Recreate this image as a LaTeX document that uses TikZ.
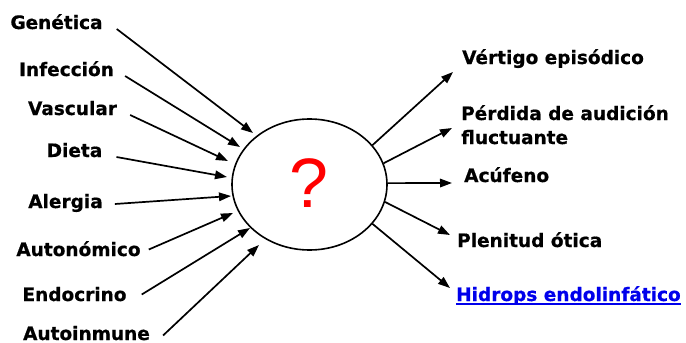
\documentclass[tikz,border=0pt]{standalone}
\usepackage{fontspec}
\setmainfont{DejaVu Sans}[BoldFeatures={FakeBold=0.6}]
\newfontfamily\qfont{Liberation Sans}
\usetikzlibrary{arrows.meta,shapes.geometric}
\definecolor{linkblue}{RGB}{0,0,235}
\definecolor{qred}{RGB}{255,0,0}
\begin{document}
\begin{tikzpicture}[x=1pt,y=-1pt,
  lbl/.style={font=\fontsize{18.5}{24}\selectfont\bfseries, inner ysep=0pt, inner xsep=0pt,
     text height=13pt, text depth=0pt, anchor=base},
  rlbl/.style={font=\fontsize{18.5}{24}\selectfont\bfseries, inner sep=0pt, anchor=base west, align=left},
  arr/.style={line width=1.7pt, -{Triangle[length=12pt,width=8.5pt]}},
  gap/.style={inner xsep=#1}]
\useasboundingbox (0,0) rectangle (686,343);
% central ellipse
\node[ellipse, draw, line width=1.6pt, minimum width=155pt, minimum height=131pt, inner sep=0pt] (q) at (309.5,184.5) {};
\node[font=\qfont\fontsize{70}{70}\selectfont, text=qred, inner sep=0pt] (qm) at (309,183) {?};
% left labels
\node[lbl, gap=14pt] (gen) at (56.5,29) {Genética};
\node[lbl, gap=11pt] (inf) at (66.5,76) {Infección};
\node[lbl, gap=13pt] (vas) at (72.5,115) {Vascular};
\node[lbl, gap=14pt] (die) at (74.5,157) {Dieta};
\node[lbl, gap=12pt] (ale) at (65.5,208) {Alergia};
\node[lbl, gap=8pt]  (aut) at (78.5,256) {Autonómico};
\node[lbl, gap=15pt] (end) at (74.5,301) {Endocrino};
\node[lbl, gap=13pt] (ain) at (86.5,340) {Autoinmune};
% left tips
\coordinate (t1) at (253,133);
\coordinate (t2) at (240,147);
\coordinate (t3) at (228,161);
\coordinate (t4) at (227,177);
\coordinate (t5) at (231,196);
\coordinate (t6) at (233,213);
\coordinate (t7) at (250,228);
\coordinate (t8) at (259,245);
\draw[arr] (gen.base east) -- (t1);
\draw[arr] (inf.base east) -- (t2);
\draw[arr] (vas.base east) -- (t3);
\draw[arr] (die.base east) -- (t4);
\draw[arr] ([yshift=4pt]ale.base east) -- (t5);
\draw[arr] (aut.east) -- (t6);
\draw[arr] (end.east) -- (t7);
\draw[arr] ([yshift=-2pt]ain.east) -- (t8);
% right labels
\node[rlbl] (ver) at (462,64) {Vértigo episódico};
\node[rlbl] (per) at (461,144) {Pérdida de audición\\fluctuante};
\node[rlbl] (acu) at (464,182) {Acúfeno};
\node[rlbl] (ple) at (457,247) {Plenitud ótica};
\node[rlbl, text=linkblue] (hid) at (456,301) {Hidrops endolinfático};
\draw[linkblue, line width=1.4pt] ([yshift=-3pt]hid.base west) -- ([yshift=-3pt]hid.base east);
% right tips
\coordinate (r1) at (453,72);
\coordinate (r2) at (452,128);
\coordinate (r3) at (452,183);
\coordinate (r4) at (450,235);
\coordinate (r5) at (450,288);
\draw[arr] (q.32) -- (r1);
\draw[arr] (q.16) -- (r2);
\draw[arr] (q.1) -- (r3);
\draw[arr] (q.-13) -- (r4);
\draw[arr] (q.-32) -- (r5);
\end{tikzpicture}
\end{document}
